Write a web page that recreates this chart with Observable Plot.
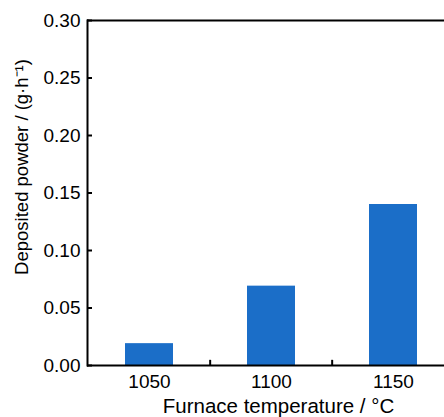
<!DOCTYPE html>
<html><head><meta charset="utf-8">
<script src="https://cdn.jsdelivr.net/npm/d3@7"></script>
<script src="https://cdn.jsdelivr.net/npm/@observablehq/plot@0.6"></script>
<style>body{margin:0;background:#fff;overflow:hidden} #chart svg{overflow:hidden}</style>
</head><body><div id="chart"></div>
<script>
const temperatures = ["1050", "1100", "1150"];
const powder = [0.019, 0.069, 0.14];
const yTicks = [0, 0.05, 0.10, 0.15, 0.20, 0.25, 0.30];
const xLabel = "Furnace temperature / °C";
const yLabel = "Deposited powder / (g·h⁻¹)";

const data = temperatures.map((t, i) => ({t, v: powder[i]}));
const W = 444, H = 417, mL = 87, mR = -11, mT = 20, mB = 52;
const step = (W - mL - mR) / temperatures.length;
const font = "'Liberation Sans', Arial, sans-serif";
const pi = 0.61;

const chart = Plot.plot({
  width: W, height: H,
  marginLeft: mL, marginRight: mR, marginTop: mT, marginBottom: mB,
  style: {fontFamily: font, fontSize: "19px", color: "black", background: "white"},
  x: {domain: temperatures, paddingInner: pi, paddingOuter: pi / 2, label: null},
  y: {domain: [0, 0.30], label: null},
  marks: [
    Plot.barY(data, {x: "t", y: "v", fill: "#1b6ec8"}),
    Plot.axisY(yTicks, {tickSize: -5, tickPadding: 12, tickFormat: d3.format(".2f"), strokeWidth: 2, fontSize: 19, label: null}),
    Plot.axisX({tickSize: 0, tickPadding: 9, fontSize: 19, label: null}),
    Plot.ruleX(temperatures.slice(1), {x: d => d, y1: 0, y2: 0.0045, dx: -step / 2, strokeWidth: 2}),
    Plot.ruleY([0], {strokeWidth: 2}),
    Plot.ruleY([0.30], {strokeWidth: 2}),
    Plot.frame({anchor: "left", strokeWidth: 2}),
    Plot.text([yLabel], {frameAnchor: "left", textAnchor: "middle", lineAnchor: "middle", rotate: -90, dx: -65, dy: -26, fontSize: 18.5}),
    Plot.text([xLabel], {frameAnchor: "bottom", textAnchor: "middle", lineAnchor: "bottom", dx: 7, dy: 47, fontSize: 20.5})
  ]
});
document.getElementById("chart").appendChild(chart);
</script></body></html>
